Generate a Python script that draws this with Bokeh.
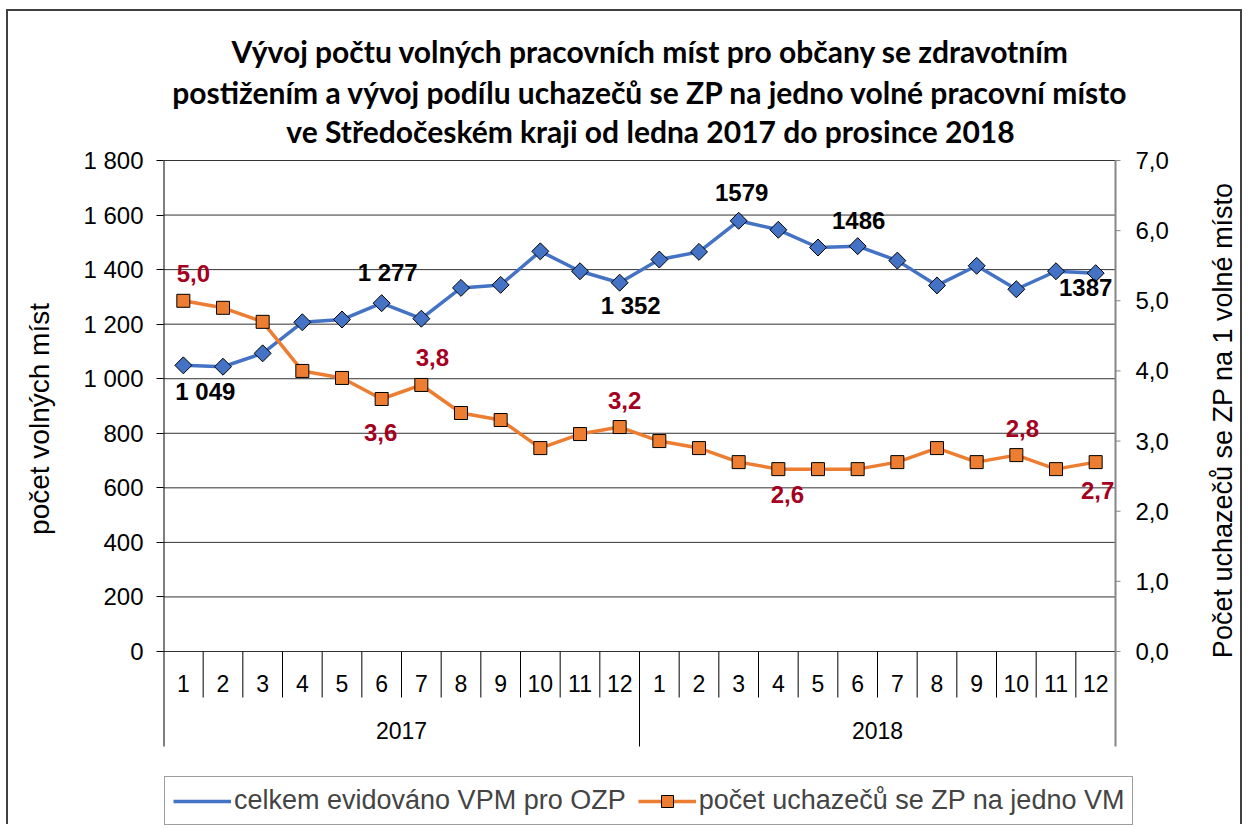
import numpy as np
from bokeh.plotting import figure
from bokeh.models import (Range1d, FixedTicker, Label, Legend, LegendItem, ColumnDataSource)
from bokeh.core.properties import value
from bokeh.embed import file_html
from bokeh.resources import INLINE

# ---------------- data ----------------
title_lines = [
    "Vývoj počtu volných pracovních míst pro občany se zdravotním",
    "postižením a vývoj podílu uchazečů se ZP na jedno volné pracovní místo",
    "ve Středočeském kraji od ledna 2017 do prosince 2018",
]
years = ["2017", "2018"]
months = ["1", "2", "3", "4", "5", "6", "7", "8", "9", "10", "11", "12"]
vpm = [1049, 1044, 1093, 1207, 1217, 1277, 1220, 1333, 1344, 1467, 1394, 1352,
       1437, 1465, 1579, 1546, 1481, 1486, 1433, 1342, 1414, 1328, 1394, 1387]
ratio = [5.0, 4.9, 4.7, 4.0, 3.9, 3.6, 3.8, 3.4, 3.3, 2.9, 3.1, 3.2,
         3.0, 2.9, 2.7, 2.6, 2.6, 2.6, 2.7, 2.9, 2.7, 2.8, 2.6, 2.7]
left_ticks = [0, 200, 400, 600, 800, 1000, 1200, 1400, 1600, 1800]
left_tick_labels = ["0", "200", "400", "600", "800", "1 000", "1 200", "1 400", "1 600", "1 800"]
right_ticks = [0, 1, 2, 3, 4, 5, 6, 7]
right_tick_labels = ["0,0", "1,0", "2,0", "3,0", "4,0", "5,0", "6,0", "7,0"]
vpm_label_idx = [0, 5, 11, 14, 17, 23]
vpm_label_txt = ["1 049", "1 277", "1 352", "1579", "1486", "1387"]
ratio_label_idx = [0, 5, 6, 11, 15, 21, 23]
ratio_label_txt = ["5,0", "3,6", "3,8", "3,2", "2,6", "2,8", "2,7"]
series_names = ["celkem evidováno VPM pro OZP", "počet uchazečů se ZP na jedno VM"]
left_title = "počet volných míst"
right_title = "Počet  uchazečů se ZP na 1 volné místo"

# ---------------- styles / layout ----------------
BLUE = "#4472C4"
ORANGE = "#ED7D31"
DARKRED = "#A50021"
GRAY = "#868686"
FONT = "Liberation Sans"
TFONT = "Lato"
# label offsets in screen px (dx right, dy down)
vpm_dx = [22, 6, 11, 3, 1, -10]
vpm_dy = [26, -31, 23, -28, -26, 14]
ratio_dx = [10, -1, 11, 5, 9, 6, 2]
ratio_dy = [-27, 34, -27, -27, 25, -27, 28]

BW = 2                       # css border width
MT, ML = 9, 6                # outer margins (page has none of its own)
W, H = 1236, 815
OFFX, OFFY = ML + BW, MT + BW  # page position of canvas origin
PX_L, PX_R = 163, 1115       # plot area left/right in page px
PX_TOP, PX_ZERO = 160, 651   # y of top value and of zero
PX_FTOP, PX_FBOT = OFFY, OFFY + H     # frame spans full canvas height
PX_FRIGHT = OFFX + W                  # ... and reaches the right edge
LMAX, RMAX = 1800, 7

lpp = LMAX / (PX_ZERO - PX_TOP)   # left units per px
rpp = RMAX / (PX_ZERO - PX_TOP)
n = len(vpm)
xpp = n / (PX_R - PX_L)

def yl(px):
    return (PX_ZERO - px) * lpp

def xd(px):
    return (px - PX_L) * xpp

p = figure(width=W, height=H, output_backend="svg", toolbar_location=None,
           x_range=Range1d(0, xd(PX_FRIGHT)), y_range=Range1d(yl(PX_FBOT), yl(PX_FTOP)),
           x_axis_location=None, title=None,
           min_border_left=PX_L - OFFX, min_border_right=0,
           min_border_top=0, min_border_bottom=0)
p.extra_y_ranges = {"right": Range1d((PX_ZERO - PX_FBOT) * rpp, (PX_ZERO - PX_FTOP) * rpp)}
p.outline_line_color = None
p.background_fill_color = "white"
p.border_fill_color = "white"
p.margin = (MT, 0, 0, ML)
p.styles = {"border-left": f"{BW}px solid #404040", "border-top": f"{BW}px solid #404040",
            "border-right": f"{BW}px solid #404040"}
p.xgrid.visible = False
p.ygrid.visible = False

# left axis (real axis)
lt = FixedTicker(ticks=left_ticks)
ya = p.yaxis[0]
ya.ticker = lt
ya.major_label_overrides = {t: s for t, s in zip(left_ticks, left_tick_labels)}
ya.axis_line_color = None
ya.major_tick_out = 7
ya.major_tick_in = 0
ya.major_tick_line_color = "black"
ya.minor_tick_line_color = None
ya.major_label_standoff = 13
ya.major_label_text_font = FONT
ya.major_label_text_font_size = "24px"
ya.major_label_text_color = "black"
ya.axis_label = left_title
ya.axis_label_text_font = FONT
ya.axis_label_text_font_size = "28px"
ya.axis_label_text_font_style = "normal"
ya.axis_label_text_color = "black"
ya.axis_label_standoff = 25

# horizontal gridlines at the left ticks, limited to the plot area
p.segment(x0=0, x1=n, y0=left_ticks, y1=left_ticks, line_color="#333333", line_width=1)

# right value axis drawn on the secondary range
p.segment(x0=[n], x1=[n], y0=[LMAX], y1=[yl(746)], line_color=GRAY, line_width=2)
p.segment(x0=n, x1=n + 5 * xpp, y0=right_ticks, y1=right_ticks, y_range_name="right",
          line_color=GRAY, line_width=1)
p.text(x=n, y=right_ticks, text=right_tick_labels, y_range_name="right", x_offset=20,
       text_align="left", text_baseline="middle", text_font=value(FONT),
       text_font_size="24px", text_color="black")
p.add_layout(Label(x=xd(1222), y=yl(416), text=right_title, angle=np.pi / 2,
                   text_align="center", text_baseline="middle", text_font=FONT,
                   text_font_size="27px", text_color="black"))

# category-axis structure
x_idx = np.arange(n)
xc = x_idx + 0.5
month_sep = [i for i in range(1, n) if i % 12 != 0]
year_mid = [i for i in range(1, n) if i % 12 == 0]
p.segment(x0=month_sep, x1=month_sep, y0=0, y1=yl(697), line_color="black", line_width=1)
p.segment(x0=year_mid, x1=year_mid, y0=0, y1=yl(746), line_color="black", line_width=1)
p.segment(x0=[0], x1=[0], y0=[LMAX], y1=[yl(746)], line_color="black", line_width=2)

month_labels = months * len(years)
p.text(x=xc, y=yl(683), text=month_labels, text_align="center", text_baseline="middle",
       text_font=value(FONT), text_font_size="23px", text_color="black")
p.text(x=[6, 18], y=yl(730), text=years, text_align="center", text_baseline="middle",
       text_font=value(FONT), text_font_size="23px", text_color="black")

# series
src = ColumnDataSource(dict(x=xc, vpm=vpm, ratio=ratio))
l1 = p.line("x", "vpm", source=src, line_color=BLUE, line_width=3.5)
s1 = p.scatter("x", "vpm", source=src, marker="square", angle=np.pi / 4, size=12,
               fill_color=BLUE, line_color="black", line_width=1)
l2 = p.line("x", "ratio", source=src, y_range_name="right", line_color=ORANGE, line_width=3.5)
s2 = p.scatter("x", "ratio", source=src, y_range_name="right", marker="square", size=13,
               fill_color=ORANGE, line_color="black", line_width=1)
# legend-only marker for the diamond series
d1 = p.scatter(x=[], y=[], marker="diamond", fill_color=BLUE, line_color="black", line_width=1)

# data labels
p.text(x=[xc[i] for i in vpm_label_idx], y=[vpm[i] for i in vpm_label_idx], text=vpm_label_txt,
       x_offset=vpm_dx, y_offset=vpm_dy, text_align="center", text_baseline="middle",
       text_font=value(FONT), text_font_style="bold", text_font_size="24px", text_color="black")
p.text(x=[xc[i] for i in ratio_label_idx], y=[ratio[i] for i in ratio_label_idx],
       text=ratio_label_txt, y_range_name="right",
       x_offset=ratio_dx, y_offset=ratio_dy, text_align="center", text_baseline="middle",
       text_font=value(FONT), text_font_style="bold", text_font_size="24px", text_color=DARKRED)

# title
for line, py in zip(title_lines, [50, 91, 130]):
    p.add_layout(Label(x=xd(650), y=yl(py), text=line, text_align="center",
                       text_baseline="middle", text_font=TFONT, text_font_style="bold",
                       text_font_size="30px", text_color="black"))

legend = Legend(items=[LegendItem(label=series_names[0], renderers=[l1, d1]),
                       LegendItem(label=series_names[1], renderers=[l2, s2])],
                orientation="horizontal", location=(1, 1),
                label_text_font=FONT, label_text_font_size="27px",
                glyph_width=58, glyph_height=30, label_standoff=3, spacing=12,
                padding=8, margin=0, border_line_color="#404040", border_line_width=1,
                background_fill_alpha=1.0)
p.add_layout(legend, "center")

open("out.html", "w").write(file_html(p, INLINE))
